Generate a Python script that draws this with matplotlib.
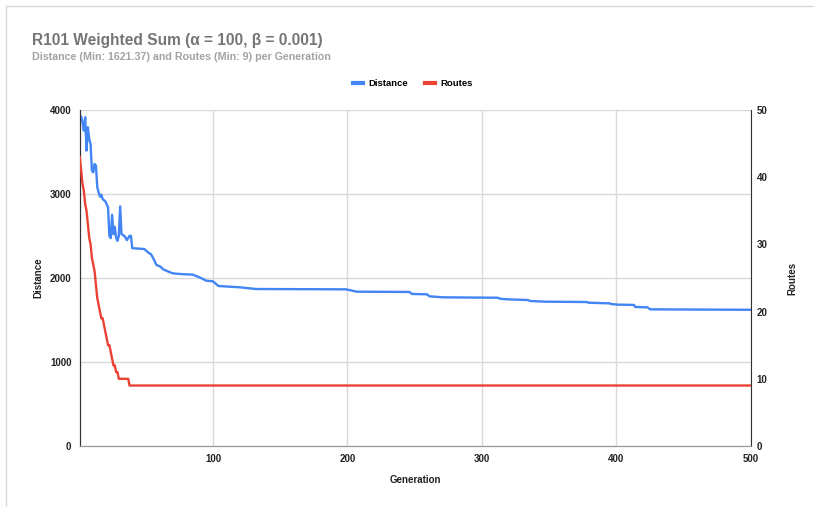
import matplotlib
matplotlib.use("Agg")
import matplotlib.pyplot as plt
from matplotlib.lines import Line2D

plt.rcParams['font.family'] = ['Liberation Sans', 'DejaVu Sans']

# ---- data ----
dist_gen = [1, 2, 3, 4, 5, 6, 7, 8, 9, 10, 11, 12, 13, 14, 15, 16, 17, 18, 20, 22,
            23, 24, 25, 26, 27, 28, 29, 30, 31, 32, 34, 35, 36, 38, 39, 40, 49, 52,
            54, 56, 58, 61, 63, 67, 70, 75, 85, 90, 95, 100, 104, 112, 120, 132,
            199, 207, 246, 248, 259, 261, 271, 312, 313, 319, 334, 336, 347, 378,
            379, 395, 396, 401, 413, 414, 423, 425, 500]
dist_val = [3934, 3922, 3854, 3755, 3914, 3517, 3795, 3655, 3595, 3278, 3258, 3357,
            3338, 3079, 3019, 2968, 2992, 2939, 2912, 2840, 2502, 2474, 2753, 2522,
            2610, 2482, 2443, 2502, 2852, 2522, 2502, 2482, 2450, 2502, 2502, 2355,
            2345, 2301, 2282, 2222, 2155, 2135, 2103, 2075, 2056, 2048, 2040, 2008,
            1968, 1960, 1905, 1897, 1889, 1869, 1865, 1837, 1834, 1810, 1806, 1782,
            1770, 1765, 1754, 1746, 1738, 1726, 1718, 1714, 1706, 1698, 1690, 1683,
            1679, 1655, 1651, 1627, 1621.37]

route_gen = [1, 2, 3, 4, 5, 6, 7, 8, 9, 10, 11, 12, 13, 14, 15, 16, 17, 18, 19, 20,
             21, 22, 23, 24, 25, 26, 27, 28, 29, 30, 37, 38, 500]
route_val = [43, 41, 39, 38, 36, 35, 33, 31, 30, 28, 27, 26, 24, 22, 21, 20, 19, 19,
             18, 17, 16, 15, 15, 14, 13, 12, 12, 11, 11, 10, 10, 9, 9]

x_ticks = [100, 200, 300, 400, 500]
left_ticks = [0, 1000, 2000, 3000, 4000]
right_ticks = [0, 10, 20, 30, 40, 50]

title = "R101 Weighted Sum (α = 100, β = 0.001)"
subtitle = "Distance (Min: 1621.37) and Routes (Min: 9) per Generation"

BLUE = "#4285F4"
RED = "#EA4335"

W, H = 814, 507
fig = plt.figure(figsize=(W / 100, H / 100), dpi=100)

# page border (light)
fig.add_artist(Line2D([6 / W, 6 / W], [0, 1 - 6 / H], color="#d9d9d9", lw=1))
fig.add_artist(Line2D([6 / W, 1], [1 - 6 / H, 1 - 6 / H], color="#d9d9d9", lw=1))

l, r, b, t = 79.8 / W, 751 / W, 1 - 446 / H, 1 - 110 / H
ax = fig.add_axes([l, b, r - l, t - b])
ax2 = ax.twinx()

ax.plot(dist_gen, dist_val, color=BLUE, lw=1.7, zorder=3)
ax2.plot(route_gen, route_val, color=RED, lw=1.7, zorder=3)

ax.set_xlim(1, 500)
ax.set_ylim(0, 4000)
ax2.set_ylim(0, 50)
ax.set_xticks(x_ticks)
ax.set_yticks(left_ticks)
ax2.set_yticks(right_ticks)

ax.grid(True, color="#d9d9d9", lw=1)
ax.set_axisbelow(True)

for a in (ax, ax2):
    a.tick_params(length=0, labelsize=7, colors="#222222")
    for lab in a.get_xticklabels() + a.get_yticklabels():
        lab.set_fontweight("bold")
ax.tick_params(axis="y", pad=6)
ax.tick_params(axis="x", pad=6)
ax2.tick_params(axis="y", pad=4)

for a in (ax, ax2):
    a.spines["top"].set_visible(False)
    a.spines["bottom"].set_color("#999999")
    a.spines["left"].set_color("#333333")
    a.spines["right"].set_color("#333333")
ax.spines["right"].set_visible(False)

ax.set_xlabel("Generation", fontsize=7, fontweight="bold", color="#222222", labelpad=8)
ax.set_ylabel("Distance", fontsize=7, fontweight="bold", color="#222222", labelpad=5)
ax2.set_ylabel("Routes", fontsize=7, fontweight="bold", color="#222222", labelpad=14)

fig.text(32 / W, 1 - 40 / H, title, fontsize=11.2, fontweight="bold",
         color="#757575", va="center", ha="left")
fig.text(32 / W, 1 - 57 / H, subtitle, fontsize=7.7, fontweight="bold",
         color="#a3a3a3", va="center", ha="left")

handles = [Line2D([], [], color=BLUE, lw=3), Line2D([], [], color=RED, lw=3)]
fig.legend(handles, ["Distance", "Routes"], loc="center", ncol=2,
           bbox_to_anchor=(413 / W, 1 - 84 / H), frameon=False,
           prop={"size": 6.8, "weight": "bold"}, handlelength=1.0,
           handletextpad=0.6, columnspacing=1.8)

fig.savefig("out.png", dpi=100)
